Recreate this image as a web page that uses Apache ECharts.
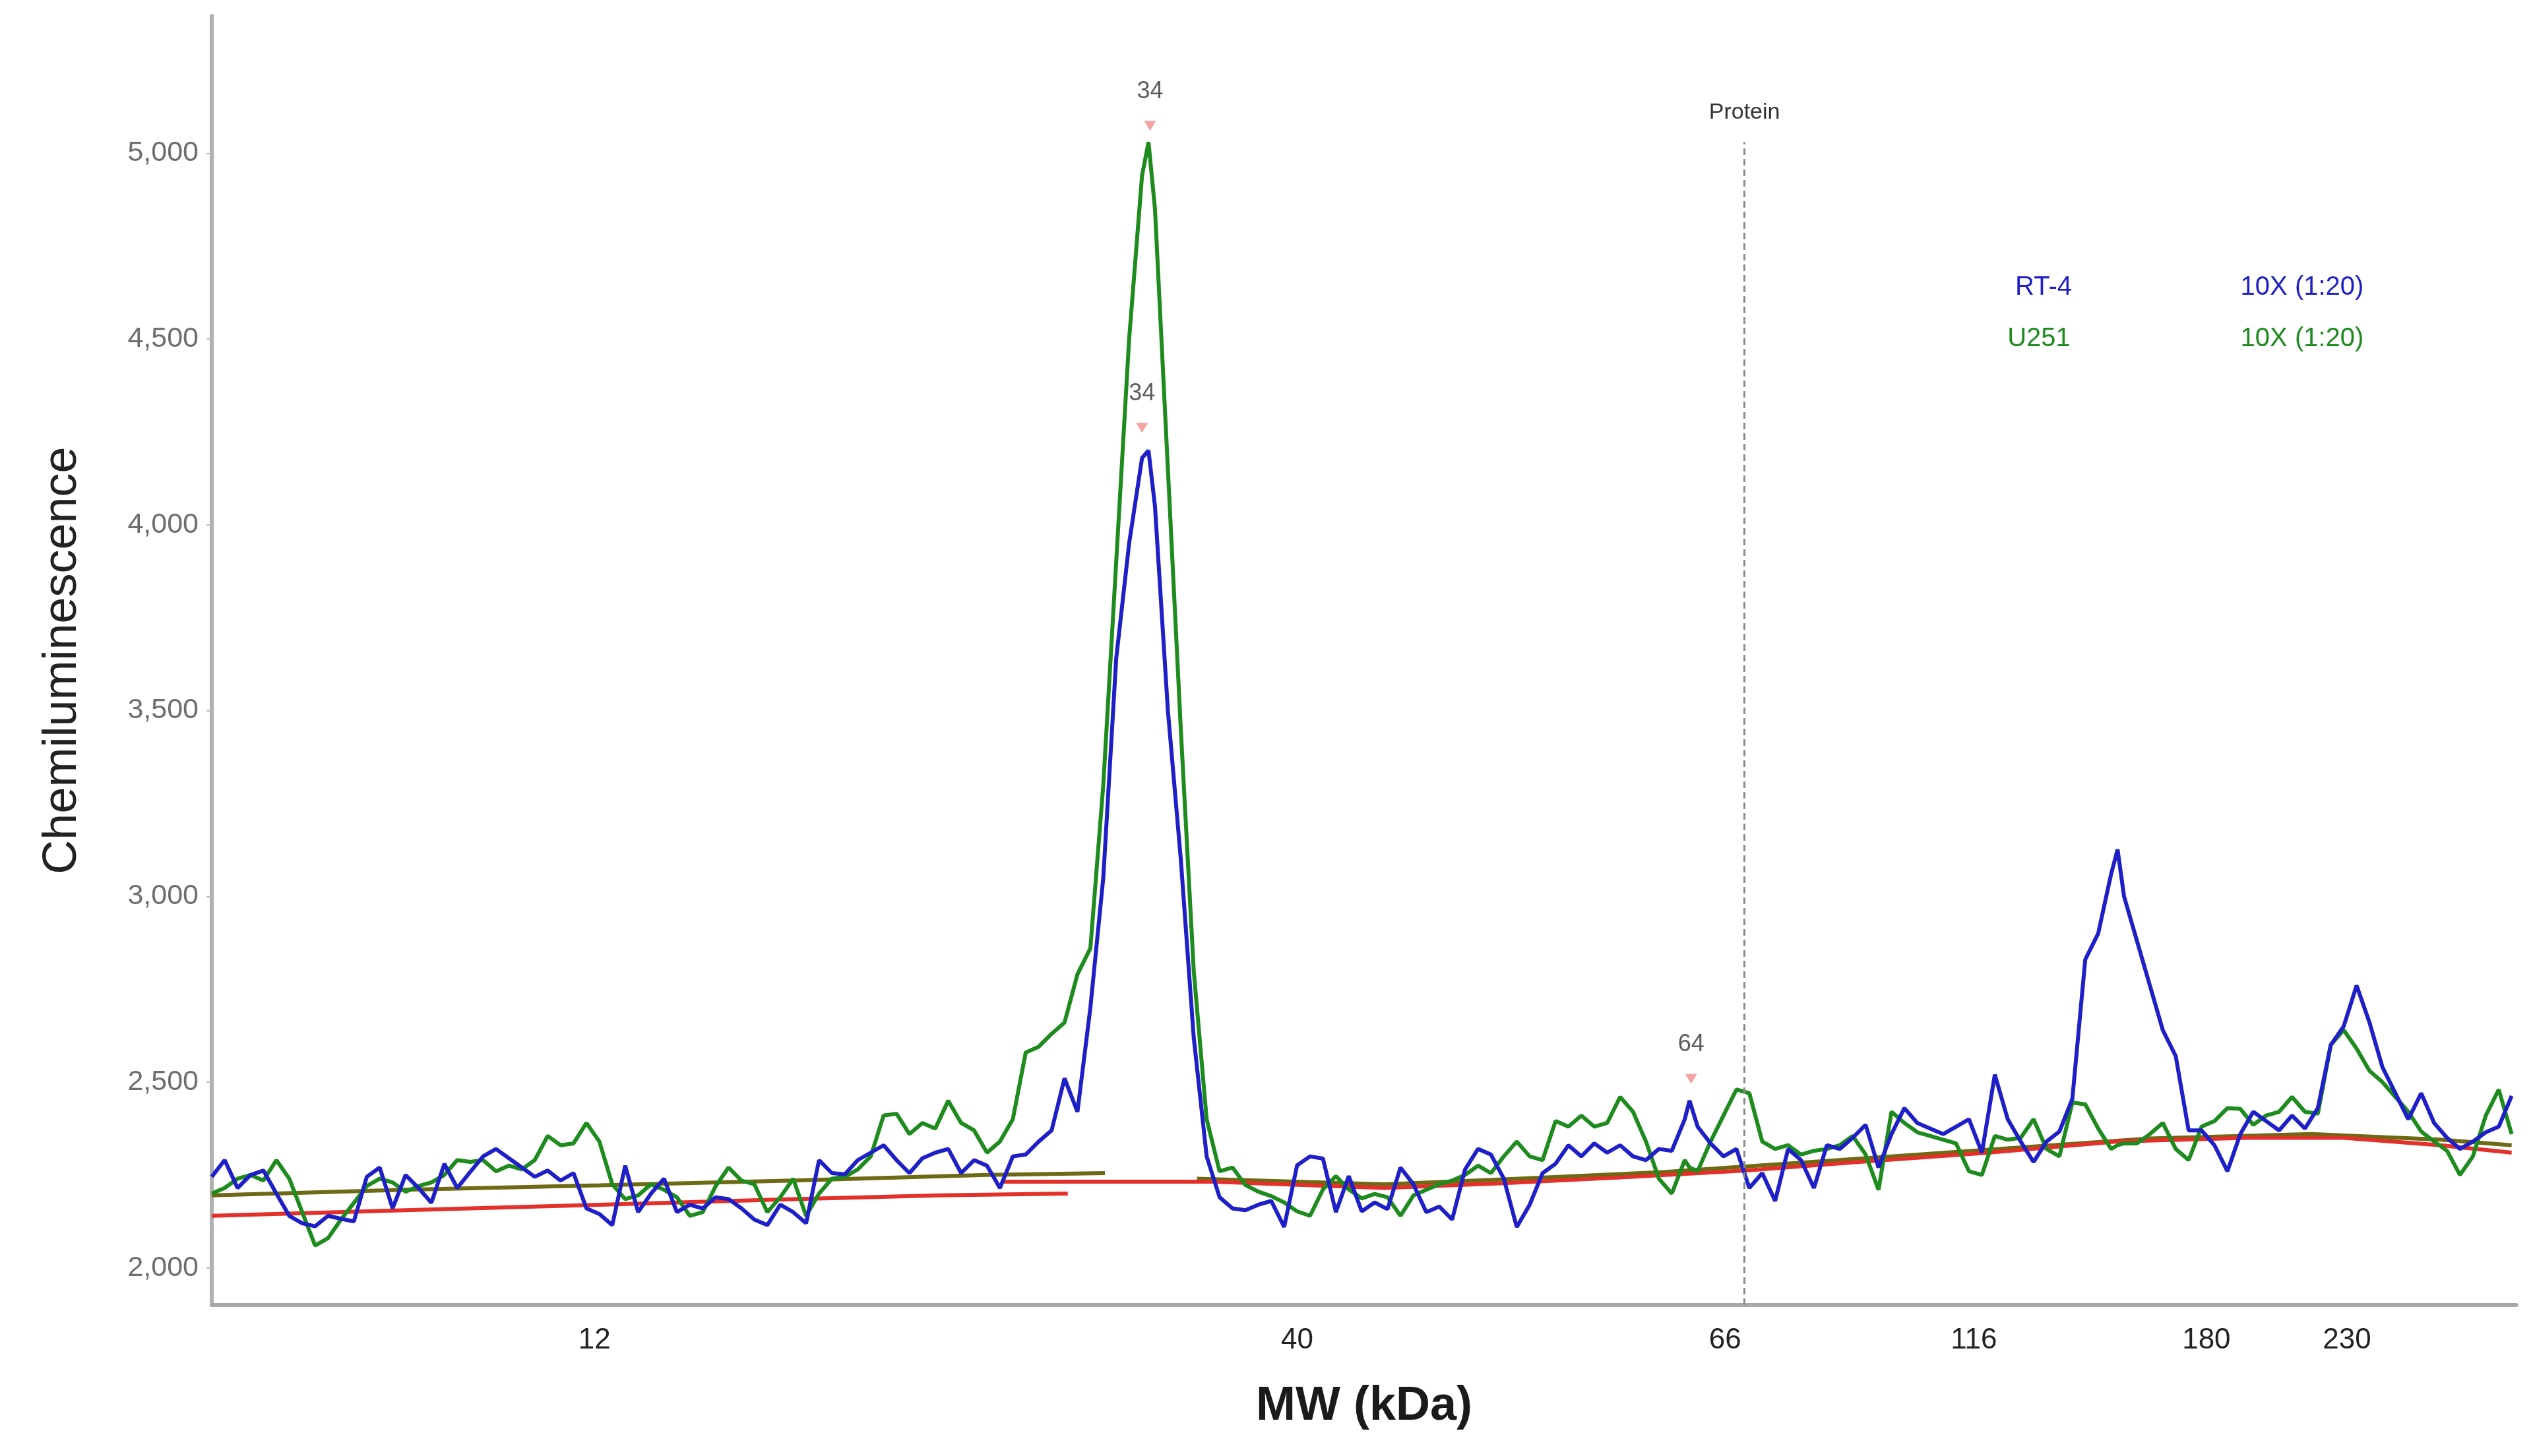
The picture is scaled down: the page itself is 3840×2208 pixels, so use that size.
<!DOCTYPE html>
<html>
<head>
<meta charset="utf-8">
<script src="https://cdn.jsdelivr.net/npm/echarts@6/dist/echarts.min.js"></script>
<style>
html,body{margin:0;padding:0;background:#ffffff;}
#chart{width:3840px;height:2208px;}
</style>
</head>
<body>
<div id="chart"></div>
<script>
// ---------- DATA ----------
// Sample positions along the capillary (migration axis), step 8 plus three peak apexes
const positions = [];
for (let p = 0; p <= 1424; p += 8) positions.push(p);
[580, 915, 1180].forEach(p => positions.push(p));
positions.sort((a, b) => a - b);

// MW ladder: positions on the migration axis and their kDa labels
const ladderPos = [237, 672, 937, 1091, 1235, 1322];
const ladderLabel = ['12', '40', '66', '116', '180', '230'];

const yTicks = [2000, 2500, 3000, 3500, 4000, 4500, 5000];

// Blue trace (RT-4)
const blueVals = [
  2245, 2290, 2215, 2250, 2262, 2200, 2140, 2120, 2112, 2140,          // 0-72
  2132, 2125, 2245, 2270, 2160, 2250, 2215, 2175, 2280, 2215,          // 80-152
  2258, 2300, 2320, 2295, 2270, 2245, 2262, 2235, 2255, 2160,          // 160-232
  2145, 2115, 2275, 2150, 2200, 2240, 2150, 2170, 2160, 2190,          // 240-312
  2185, 2160, 2130, 2115, 2170, 2150, 2120, 2290, 2255, 2252,          // 320-392
  2290, 2310, 2330, 2290, 2255, 2295, 2310, 2320, 2255, 2290,          // 400-472
  2275, 2215, 2300, 2305, 2340, 2370, 2510, 2420, 2700, 3050,          // 480-552
  3640, 3950, 4180, 4200, 4050, 3500, 3100, 2620, 2300, 2190, 2160,    // 560-632 (+580)
  2155, 2170, 2180, 2110, 2276, 2300, 2294, 2150, 2247, 2152,          // 640-712
  2176, 2158, 2270, 2225, 2150, 2165, 2130, 2265, 2320, 2305,          // 720-792
  2240, 2110, 2170, 2255, 2280, 2330, 2300, 2335, 2310, 2330,          // 800-872
  2300, 2290, 2320, 2315, 2400, 2450, 2380, 2335, 2300, 2320, 2215,    // 880-952 (+915)
  2255, 2180, 2320, 2290, 2215, 2330, 2320, 2350, 2385, 2270,          // 960-1032
  2360, 2430, 2390, 2375, 2360, 2380, 2400, 2310, 2520, 2400,          // 1040-1112
  2340, 2285, 2340, 2367, 2455, 2830, 2900, 3060, 3126, 3000, 2880,    // 1120-1192 (+1180)
  2760, 2640, 2570, 2370, 2370, 2330, 2260, 2360, 2420, 2395,          // 1200-1272
  2370, 2410, 2375, 2430, 2600, 2650, 2760, 2660, 2540, 2470,          // 1280-1352
  2400, 2470, 2390, 2350, 2320, 2340, 2365, 2380, 2463                 // 1360-1424
];

// Green trace (U251)
const greenVals = [
  2200, 2215, 2240, 2250, 2235, 2290, 2240, 2150, 2060, 2080,          // 0-72
  2130, 2175, 2220, 2240, 2230, 2205, 2220, 2230, 2250, 2290,          // 80-152
  2285, 2290, 2260, 2275, 2265, 2290, 2355, 2330, 2335, 2390,          // 160-232
  2340, 2225, 2185, 2195, 2225, 2210, 2190, 2140, 2150, 2220,          // 240-312
  2270, 2235, 2225, 2150, 2190, 2240, 2140, 2200, 2240, 2245,          // 320-392
  2265, 2300, 2410, 2415, 2360, 2390, 2375, 2450, 2390, 2370,          // 400-472
  2310, 2340, 2400, 2580, 2595, 2630, 2660, 2790, 2860, 3300,          // 480-552
  3900, 4500, 4940, 5030, 4850, 4150, 3450, 2800, 2400, 2260, 2270,    // 560-632 (+580)
  2223, 2205, 2193, 2176, 2152, 2140, 2211, 2247, 2211, 2187,          // 640-712
  2199, 2190, 2140, 2195, 2210, 2225, 2235, 2250, 2275, 2255,          // 720-792
  2300, 2340, 2300, 2290, 2395, 2380, 2410, 2380, 2390, 2460,          // 800-872
  2420, 2340, 2240, 2200, 2290, 2270, 2260, 2340, 2410, 2480, 2470,    // 880-952 (+915)
  2340, 2320, 2330, 2305, 2315, 2320, 2330, 2355, 2305, 2210,          // 960-1032
  2420, 2390, 2365, 2355, 2345, 2335, 2260, 2250, 2355, 2345,          // 1040-1112
  2350, 2400, 2320, 2300, 2445, 2440, 2375, 2320, 2330, 2335, 2335,    // 1120-1192 (+1180)
  2360, 2390, 2320, 2290, 2380, 2395, 2430, 2428, 2385, 2410,          // 1200-1272
  2420, 2460, 2420, 2415, 2600, 2640, 2590, 2530, 2500, 2460,          // 1280-1352
  2420, 2367, 2340, 2315, 2250, 2300, 2410, 2480, 2360                 // 1360-1424
];

// Fitted baselines
const redAX = [0, 120, 240, 360, 450, 530];
const redAY = [2140, 2155, 2170, 2185, 2195, 2200];
const redBX = [490, 620, 726, 800, 880, 950, 1020, 1100, 1180, 1260, 1320, 1380, 1424];
const redBY = [2232, 2232, 2215, 2228, 2245, 2262, 2285, 2310, 2340, 2350, 2350, 2330, 2310];
const oliveAX = [0, 120, 240, 360, 480, 553];
const oliveAY = [2195, 2210, 2222, 2235, 2250, 2255];
const oliveBX = [610, 726, 800, 900, 1000, 1100, 1200, 1300, 1380, 1424];
const oliveBY = [2240, 2225, 2238, 2258, 2288, 2318, 2348, 2360, 2345, 2330];

// Peak annotations
const peakX = [581, 576, 916];
const peakY = [5074, 4261, 2509];
const peakText = ['34', '34', '64'];

// Protein marker line
const proteinPos = 949;
const proteinTop = 5030;
const proteinLabel = 'Protein';

// Legend texts
const legendNames = ['RT-4', 'U251'];
const legendConds = ['10X (1:20)', '10X (1:20)'];

// ---------- CHART ----------
const FONT = '"Liberation Sans", Arial, sans-serif';
const BLUE = '#1f1fc8';
const GREEN = '#1e8b1e';
const RED = '#e4302a';
const OLIVE = '#6e6a14';

const pairs = (xs, ys) => xs.map((x, i) => [x, ys[i]]);

const chart = echarts.init(document.getElementById('chart'), null, { renderer: 'canvas' });

const lineBase = {
  type: 'line', showSymbol: false, symbol: 'none', silent: true, animation: false
};

const option = {
  animation: false,
  backgroundColor: '#ffffff',
  textStyle: { fontFamily: FONT },
  grid: { left: 321, right: 25, top: 24, bottom: 229, containLabel: false },
  xAxis: {
    type: 'value', min: 0, max: 1427,
    name: 'MW (kDa)', nameLocation: 'middle', nameGap: 118,
    nameTextStyle: { fontFamily: FONT, fontSize: 72, fontWeight: 'bold', color: '#1a1a1a' },
    axisLine: { show: true, onZero: false, lineStyle: { color: '#a8a8a8', width: 6 } },
    axisTick: { show: false },
    splitLine: { show: false },
    axisLabel: {
      customValues: ladderPos,
      formatter: v => ladderLabel[ladderPos.indexOf(v)],
      fontFamily: FONT, fontSize: 44, color: '#222', margin: 32
    }
  },
  yAxis: {
    type: 'value', min: 1900, max: 5370,
    name: 'Chemiluminescence', nameLocation: 'middle', nameGap: 190,
    nameTextStyle: { fontFamily: FONT, fontSize: 72, color: '#222' },
    axisLine: { show: true, lineStyle: { color: '#b0b0b0', width: 6 } },
    axisTick: { show: true, customValues: yTicks, length: 8, lineStyle: { color: '#bbbbbb', width: 2 } },
    splitLine: { show: false },
    axisLabel: {
      customValues: yTicks,
      formatter: v => Number(v).toLocaleString('en-US'),
      fontFamily: FONT, fontSize: 43, color: '#6e6e6e', margin: 20
    }
  },
  graphic: [
    { type: 'text', x: 3098, y: 436, style: { text: legendNames[0], fill: BLUE, font: '40px ' + FONT, align: 'center', verticalAlign: 'middle' } },
    { type: 'text', x: 3490, y: 436, style: { text: legendConds[0], fill: BLUE, font: '40px ' + FONT, align: 'center', verticalAlign: 'middle' } },
    { type: 'text', x: 3091, y: 514, style: { text: legendNames[1], fill: GREEN, font: '40px ' + FONT, align: 'center', verticalAlign: 'middle' } },
    { type: 'text', x: 3490, y: 514, style: { text: legendConds[1], fill: GREEN, font: '40px ' + FONT, align: 'center', verticalAlign: 'middle' } }
  ],
  series: [
    Object.assign({}, lineBase, { name: 'redA', data: pairs(redAX, redAY), lineStyle: { color: RED, width: 6 }, z: 2 }),
    Object.assign({}, lineBase, { name: 'oliveA', data: pairs(oliveAX, oliveAY), lineStyle: { color: OLIVE, width: 6 }, z: 2 }),
    Object.assign({}, lineBase, { name: 'oliveB', data: pairs(oliveBX, oliveBY), lineStyle: { color: OLIVE, width: 6 }, z: 2 }),
    Object.assign({}, lineBase, { name: 'redB', data: pairs(redBX, redBY), lineStyle: { color: RED, width: 6 }, z: 2 }),
    Object.assign({}, lineBase, {
      name: 'U251', data: pairs(positions, greenVals), lineStyle: { color: GREEN, width: 6 }, z: 3
    }),
    Object.assign({}, lineBase, {
      name: 'RT-4', data: pairs(positions, blueVals), lineStyle: { color: BLUE, width: 6 }, z: 4,
      markLine: {
        silent: true, symbol: 'none', animation: false,
        lineStyle: { type: [10, 6], color: '#8a8a8a', width: 3 },
        label: { show: true, position: 'end', formatter: proteinLabel, fontFamily: FONT, fontSize: 34, color: '#333', distance: 28 },
        data: [[{ coord: [proteinPos, 1900] }, { coord: [proteinPos, proteinTop] }]]
      }
    }),
    {
      type: 'scatter', name: 'peaks', silent: true, animation: false, z: 10,
      symbol: 'triangle', symbolRotate: 180, symbolSize: [18, 15],
      itemStyle: { color: '#f28b8b' },
      label: { show: true, position: 'top', distance: 26, fontFamily: FONT, fontSize: 36, color: '#333' },
      data: peakX.map((x, i) => ({ value: [x, peakY[i]], label: { formatter: peakText[i] } }))
    }
  ]
};

chart.setOption(option);
</script>
</body>
</html>
